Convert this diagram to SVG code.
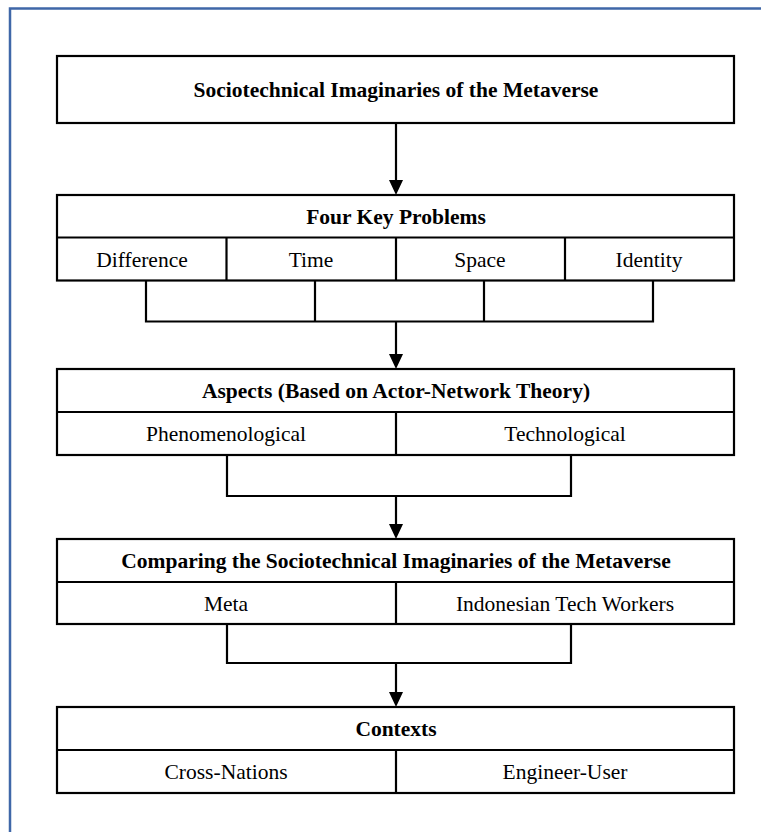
<svg xmlns="http://www.w3.org/2000/svg" width="761" height="832" viewBox="0 0 761 832">
<style>
.box{fill:#fff;stroke:#000;stroke-width:2.2}
.ln{fill:none;stroke:#000;stroke-width:2.2}
.h{font-family:"Liberation Serif","Times New Roman",serif;font-weight:bold;font-size:21.5px;text-anchor:middle;fill:#000}
.t{font-family:"Liberation Serif","Times New Roman",serif;font-size:21.5px;text-anchor:middle;fill:#000}
.frame{fill:none;stroke:#3F67A8;stroke-width:2.5}
</style>
<rect width="761" height="832" fill="#fff"/>
<path class="frame" d="M10,832 V8.5 H761"/>

<g id="connectors">
<path class="ln" d="M396,123 V180" />
<path d="M389,180 L403,180 L396,195 Z"/>
<path class="ln" d="M146,280.5 V321.5 H653 V280.5 M315,280.5 V321.5 M484,280.5 V321.5"/>
<path class="ln" d="M396,321.5 V354"/>
<path d="M389,354 L403,354 L396,369 Z"/>
<path class="ln" d="M227,455 V496 H571 V455"/>
<path class="ln" d="M396,496 V524"/>
<path d="M389,524 L403,524 L396,539 Z"/>
<path class="ln" d="M227,624 V663 H571 V624"/>
<path class="ln" d="M396,663 V692"/>
<path d="M389,692 L403,692 L396,707 Z"/>
</g>

<g id="title">
<rect class="box" x="57" y="56" width="677" height="67"/>
<text class="h" x="396" y="97">Sociotechnical Imaginaries of the Metaverse</text>
</g>

<g id="problems">
<rect class="box" x="57" y="195" width="677" height="85.5"/>
<path class="ln" d="M57,237.5 H734 M226.5,237.5 V280.5 M396,237.5 V280.5 M565,237.5 V280.5"/>
<text class="h" x="396" y="223.5">Four Key Problems</text>
<text class="t" x="142" y="266.5">Difference</text>
<text class="t" x="311" y="266.5">Time</text>
<text class="t" x="480" y="266.5">Space</text>
<text class="t" x="649" y="266.5">Identity</text>
</g>

<g id="aspects">
<rect class="box" x="57" y="369" width="677" height="86"/>
<path class="ln" d="M57,412 H734 M396,412 V455"/>
<text class="h" x="396" y="398">Aspects (Based on Actor-Network Theory)</text>
<text class="t" x="226" y="441">Phenomenological</text>
<text class="t" x="565" y="441">Technological</text>
</g>

<g id="comparing">
<rect class="box" x="57" y="539" width="677" height="85"/>
<path class="ln" d="M57,582 H734 M396,582 V624"/>
<text class="h" x="396" y="568">Comparing the Sociotechnical Imaginaries of the Metaverse</text>
<text class="t" x="226" y="610.5">Meta</text>
<text class="t" x="565" y="610.5">Indonesian Tech Workers</text>
</g>

<g id="contexts">
<rect class="box" x="57" y="707" width="677" height="86"/>
<path class="ln" d="M57,750 H734 M396,750 V793"/>
<text class="h" x="396" y="736">Contexts</text>
<text class="t" x="226" y="779">Cross-Nations</text>
<text class="t" x="565" y="779">Engineer-User</text>
</g>
</svg>
